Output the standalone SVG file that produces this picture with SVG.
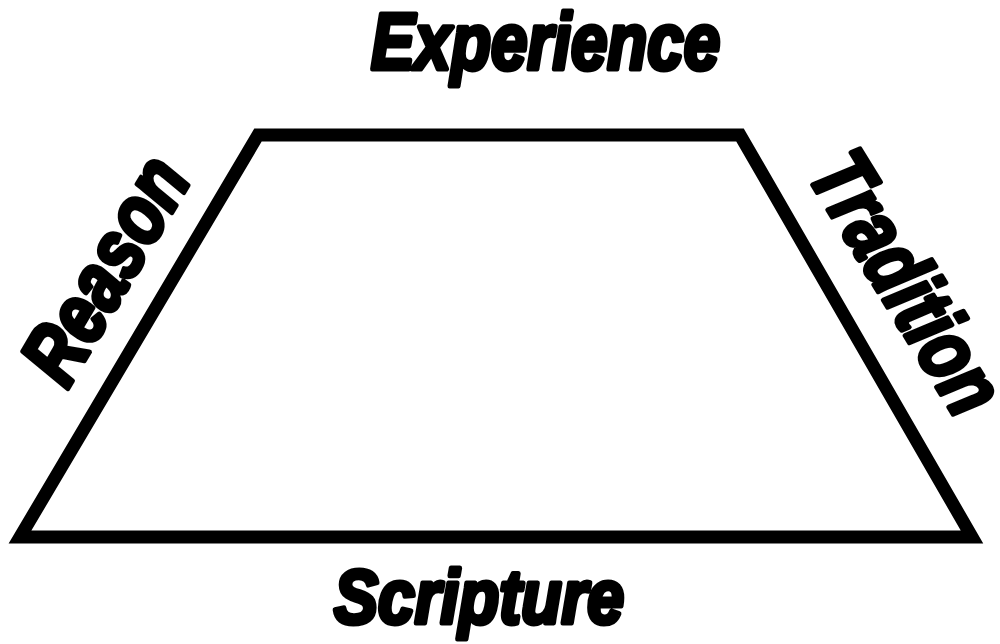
<svg xmlns="http://www.w3.org/2000/svg" width="1000" height="644" viewBox="0 0 1000 644">
<style>
.lbl{font-family:"Liberation Sans",Arial,sans-serif;font-weight:bold;font-style:italic;fill:#000;stroke:#000;stroke-width:5px;stroke-linejoin:round}
.shape{fill:#fff;stroke:#000;stroke-width:13;stroke-linejoin:miter}
</style>
<rect width="1000" height="644" fill="#fff"/>
<g id="connectors"></g>
<g id="trapezoid"><polygon class="shape" points="258,135 740,135 972,537 20,537"/></g>
<g id="experience"><text class="lbl" font-size="79" x="371" y="69" textLength="349" lengthAdjust="spacingAndGlyphs">Experience</text></g>
<g id="scripture"><text class="lbl" font-size="76" x="334" y="623" textLength="290" lengthAdjust="spacingAndGlyphs">Scripture</text></g>
<g id="reason"><text class="lbl" font-size="84" transform="translate(67,390) rotate(-59.4)" x="0" y="0" textLength="246" lengthAdjust="spacingAndGlyphs">Reason</text></g>
<g id="tradition"><text class="lbl" font-size="86" transform="translate(806,174) rotate(58.5)" x="0" y="0" textLength="290" lengthAdjust="spacingAndGlyphs">Tradition</text></g>
</svg>
